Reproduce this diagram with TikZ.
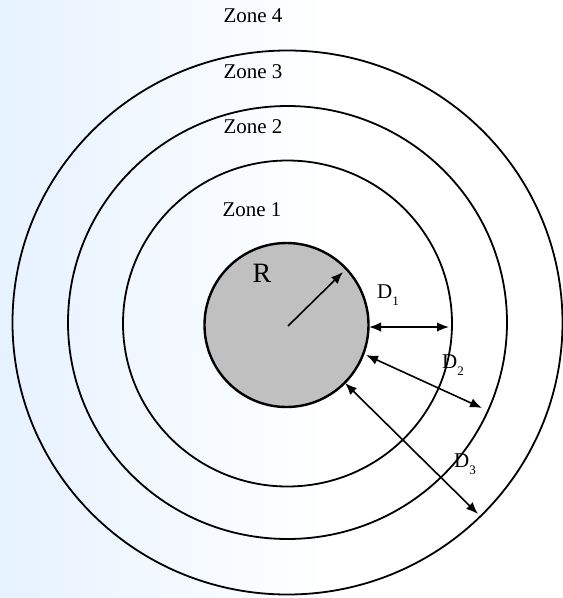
\documentclass[tikz,border=0pt]{standalone}
\usepackage{fontspec}
\setmainfont{Liberation Serif}
\usetikzlibrary{arrows.meta}
\definecolor{bgblue}{RGB}{230,242,255}
\newcommand{\subnum}[1]{\raisebox{-0.38em}{\fontsize{13}{13}\selectfont #1}}
\begin{document}
\begin{tikzpicture}[x=1pt,y=-1pt,
  ring/.style={draw=black,line width=1.8pt},
  zonelbl/.style={font=\fontsize{21}{21}\selectfont,inner sep=0pt},
  dlbl/.style={font=\fontsize{21}{21}\selectfont,inner sep=0pt},
  dim/.style={line width=1.6pt,{Latex[length=12pt,width=9.5pt]}-{Latex[length=12pt,width=9.5pt]}},
  rad/.style={line width=1.6pt,-{Latex[length=12pt,width=9.5pt]}}]
\useasboundingbox (0,0) rectangle (563,598);
\fill[white] (0,0) rectangle (563,598);
\shade[left color=bgblue,right color=white] (0,0) rectangle (330,598);
% rings
\draw[ring] (287.5,322.5) ellipse [x radius=275,y radius=272];
\draw[ring] (287.5,322.5) ellipse [x radius=219.5,y radius=216.5];
\draw[ring] (287.5,323.5) ellipse [x radius=164.5,y radius=163];
\draw[line width=2.4pt,fill={rgb,255:red,192;green,192;blue,192}] (286.5,325) circle [radius=82];
% labels
\node[zonelbl] (z4) at (253,16) {Zone 4};
\node[zonelbl] (z3) at (253,72) {Zone 3};
\node[zonelbl] (z2) at (253,127) {Zone 2};
\node[zonelbl] (z1) at (252,210) {Zone 1};
\node[font=\fontsize{28}{28}\selectfont,inner sep=0pt] (R) at (262,273) {R};
\node[dlbl,anchor=base west] (d1) at (377,298) {D\subnum{1}};
\node[dlbl,anchor=base west] (d2) at (442,368) {D\subnum{2}};
\node[dlbl,anchor=base west] (d3) at (454,467) {D\subnum{3}};
% arrows
\coordinate (c) at (288,326);
\coordinate (rt) at (343,272);
\draw[rad] (c) -- (rt);
\coordinate (a1) at (369,327);
\coordinate (b1) at (449,327);
\draw[dim] (a1) -- (b1);
\coordinate (a2) at (366,355);
\coordinate (b2) at (482,408);
\draw[dim] (a2) -- (b2);
\coordinate (a3) at (345,383);
\coordinate (b3) at (478,514);
\draw[dim] (a3) -- (b3);
\end{tikzpicture}
\end{document}
